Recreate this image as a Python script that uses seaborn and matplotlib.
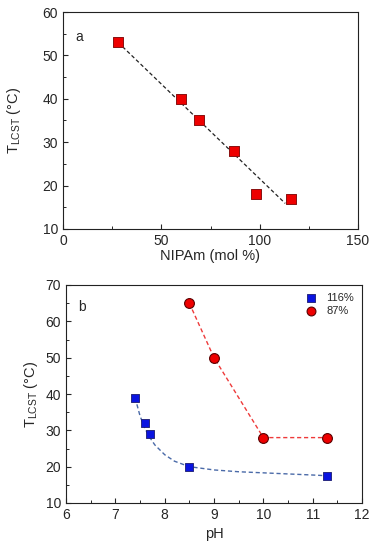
import numpy as np
import pandas as pd
import matplotlib.pyplot as plt
import seaborn as sns
from matplotlib.ticker import MultipleLocator

# panel a: LCST vs NIPAm content
nipam = [28, 60, 69, 87, 98, 116]
lcst_a = [53, 40, 35, 28, 18, 17]
fit_a_x = [28, 113]
fit_a_y = [53, 15.9]

# panel b: LCST vs pH
ph_116 = [7.4, 7.6, 7.7, 8.5, 11.3]
lcst_116 = [39, 32, 29, 20, 17.5]
curve_116_x = [7.4, 7.5, 7.6, 7.7, 7.8, 8.0, 8.2, 8.5, 9.0, 9.5, 10.0, 10.5, 11.0, 11.3]
curve_116_y = [39, 34, 30.5, 28, 26, 23.3, 21.5, 20.0, 19.1, 18.6, 18.3, 18.0, 17.7, 17.5]
ph_87 = [8.5, 9, 10, 11.3]
lcst_87 = [65, 50, 28, 28]

sns.set_style("ticks")
plt.rcParams['font.family'] = ['Liberation Sans', 'DejaVu Sans']
plt.rcParams['font.size'] = 10
plt.rcParams['xtick.direction'] = 'in'
plt.rcParams['ytick.direction'] = 'in'

fig = plt.figure(figsize=(3.73, 5.5), dpi=100)
ax1 = fig.add_axes([63/373, 1 - 229/550, 295/373, 217/550])
ax2 = fig.add_axes([66/373, 1 - 503/550, 296/373, 218/550])

df_a = pd.DataFrame({'x': nipam, 'y': lcst_a})
sns.lineplot(x=fit_a_x, y=fit_a_y, ax=ax1, color='#222222', linestyle=(0, (3, 2)), lw=0.9)
sns.scatterplot(data=df_a, x='x', y='y', ax=ax1, marker='s', s=48, color='#ee0000',
                edgecolor='#8a1010', linewidth=0.7, zorder=3)
ax1.set_xlim(0, 150)
ax1.set_ylim(10, 60)
ax1.xaxis.set_major_locator(MultipleLocator(50))
ax1.xaxis.set_minor_locator(MultipleLocator(25))
ax1.yaxis.set_major_locator(MultipleLocator(10))
ax1.yaxis.set_minor_locator(MultipleLocator(5))
ax1.set_xlabel('NIPAm (mol %)', fontsize=10.5, labelpad=1)
ax1.set_ylabel(r'T$_{\mathregular{LCST}}$ (°C)', fontsize=10.5, labelpad=14)
ax1.text(0.054, 0.885, 'a', transform=ax1.transAxes, fontsize=10, va='center', ha='center')

sns.lineplot(x=curve_116_x, y=curve_116_y, ax=ax2, color='#4a6aa8', linestyle=(0, (3, 2)), lw=1.0)
sns.lineplot(x=ph_87, y=lcst_87, ax=ax2, color='#ee3a3a', linestyle=(0, (3, 2)), lw=1.0)
sns.scatterplot(x=ph_116, y=lcst_116, ax=ax2, marker='s', s=40, color='#0a14e0',
                edgecolor='#1a1a70', linewidth=0.6, zorder=3, label='116%')
sns.scatterplot(x=ph_87, y=lcst_87, ax=ax2, marker='o', s=50, color='#ee0000',
                edgecolor='#5a0000', linewidth=0.8, zorder=3, label='87%')
ax2.set_xlim(6, 12)
ax2.set_ylim(10, 70)
ax2.xaxis.set_major_locator(MultipleLocator(1))
ax2.xaxis.set_minor_locator(MultipleLocator(0.5))
ax2.yaxis.set_major_locator(MultipleLocator(10))
ax2.yaxis.set_minor_locator(MultipleLocator(5))
ax2.set_xlabel('pH', fontsize=10.5)
ax2.set_ylabel(r'T$_{\mathregular{LCST}}$ (°C)', fontsize=10.5)
ax2.text(0.054, 0.90, 'b', transform=ax2.transAxes, fontsize=10, va='center', ha='center')
ax2.legend(loc='upper right', frameon=False, fontsize=8, handletextpad=0.4,
           borderaxespad=0.3, labelspacing=0.25, markerscale=0.9)

for ax in (ax1, ax2):
    for sp in ax.spines.values():
        sp.set_linewidth(0.8)
        sp.set_color('#222222')
    ax.tick_params(which='major', length=3.5, width=0.8)
    ax.tick_params(which='minor', length=2, width=0.7)

fig.savefig('out.png', dpi=100)
